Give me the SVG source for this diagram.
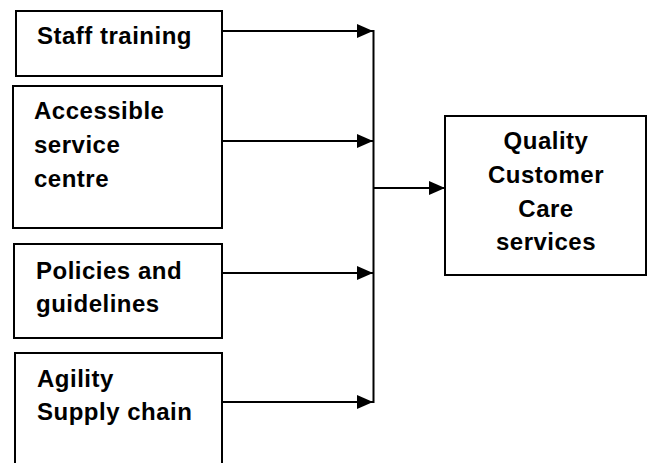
<svg xmlns="http://www.w3.org/2000/svg" width="648" height="463" viewBox="0 0 648 463">
<style>
.box{fill:#fff;stroke:#000;stroke-width:2}
.t{font-family:"Liberation Sans",Arial,sans-serif;font-weight:bold;font-size:24px;letter-spacing:0.5px;fill:#000}
.c{text-anchor:middle}
.ln{fill:none;stroke:#000;stroke-width:2}
</style>
<defs>
<marker id="ah" markerWidth="16" markerHeight="14" refX="16" refY="7" orient="auto" markerUnits="userSpaceOnUse">
<path d="M0,0 L16,7 L0,14 Z" fill="#000"/>
</marker>
</defs>
<rect width="648" height="463" fill="#fff"/>
<g id="staff">
<rect class="box" x="16" y="11" width="206" height="65"/>
<text class="t" x="37" y="44">Staff training</text>
</g>
<g id="accessible">
<rect class="box" x="13" y="86" width="209" height="142"/>
<text class="t" x="34" y="119">Accessible</text>
<text class="t" x="34" y="153">service</text>
<text class="t" x="34" y="187">centre</text>
</g>
<g id="policies">
<rect class="box" x="14" y="244" width="208" height="94"/>
<text class="t" x="36" y="279">Policies and</text>
<text class="t" x="36" y="312">guidelines</text>
</g>
<g id="agility">
<path class="box" d="M15,464 L15,353 L222,353 L222,464"/>
<text class="t" x="37" y="387">Agility</text>
<text class="t" x="37" y="420">Supply chain</text>
</g>
<g id="quality">
<rect class="box" x="445" y="116" width="201" height="159"/>
<text class="t c" x="546" y="149">Quality</text>
<text class="t c" x="546" y="183">Customer</text>
<text class="t c" x="546" y="217">Care</text>
<text class="t c" x="546" y="250">services</text>
</g>
<g id="connectors">
<line class="ln" x1="373.5" y1="30" x2="373.5" y2="403"/>
<line class="ln" x1="222" y1="31" x2="373" y2="31" marker-end="url(#ah)"/>
<line class="ln" x1="222" y1="141" x2="373" y2="141" marker-end="url(#ah)"/>
<line class="ln" x1="222" y1="273" x2="373" y2="273" marker-end="url(#ah)"/>
<line class="ln" x1="222" y1="402" x2="373" y2="402" marker-end="url(#ah)"/>
<line class="ln" x1="373.5" y1="188" x2="445" y2="188" marker-end="url(#ah)"/>
</g>
</svg>
